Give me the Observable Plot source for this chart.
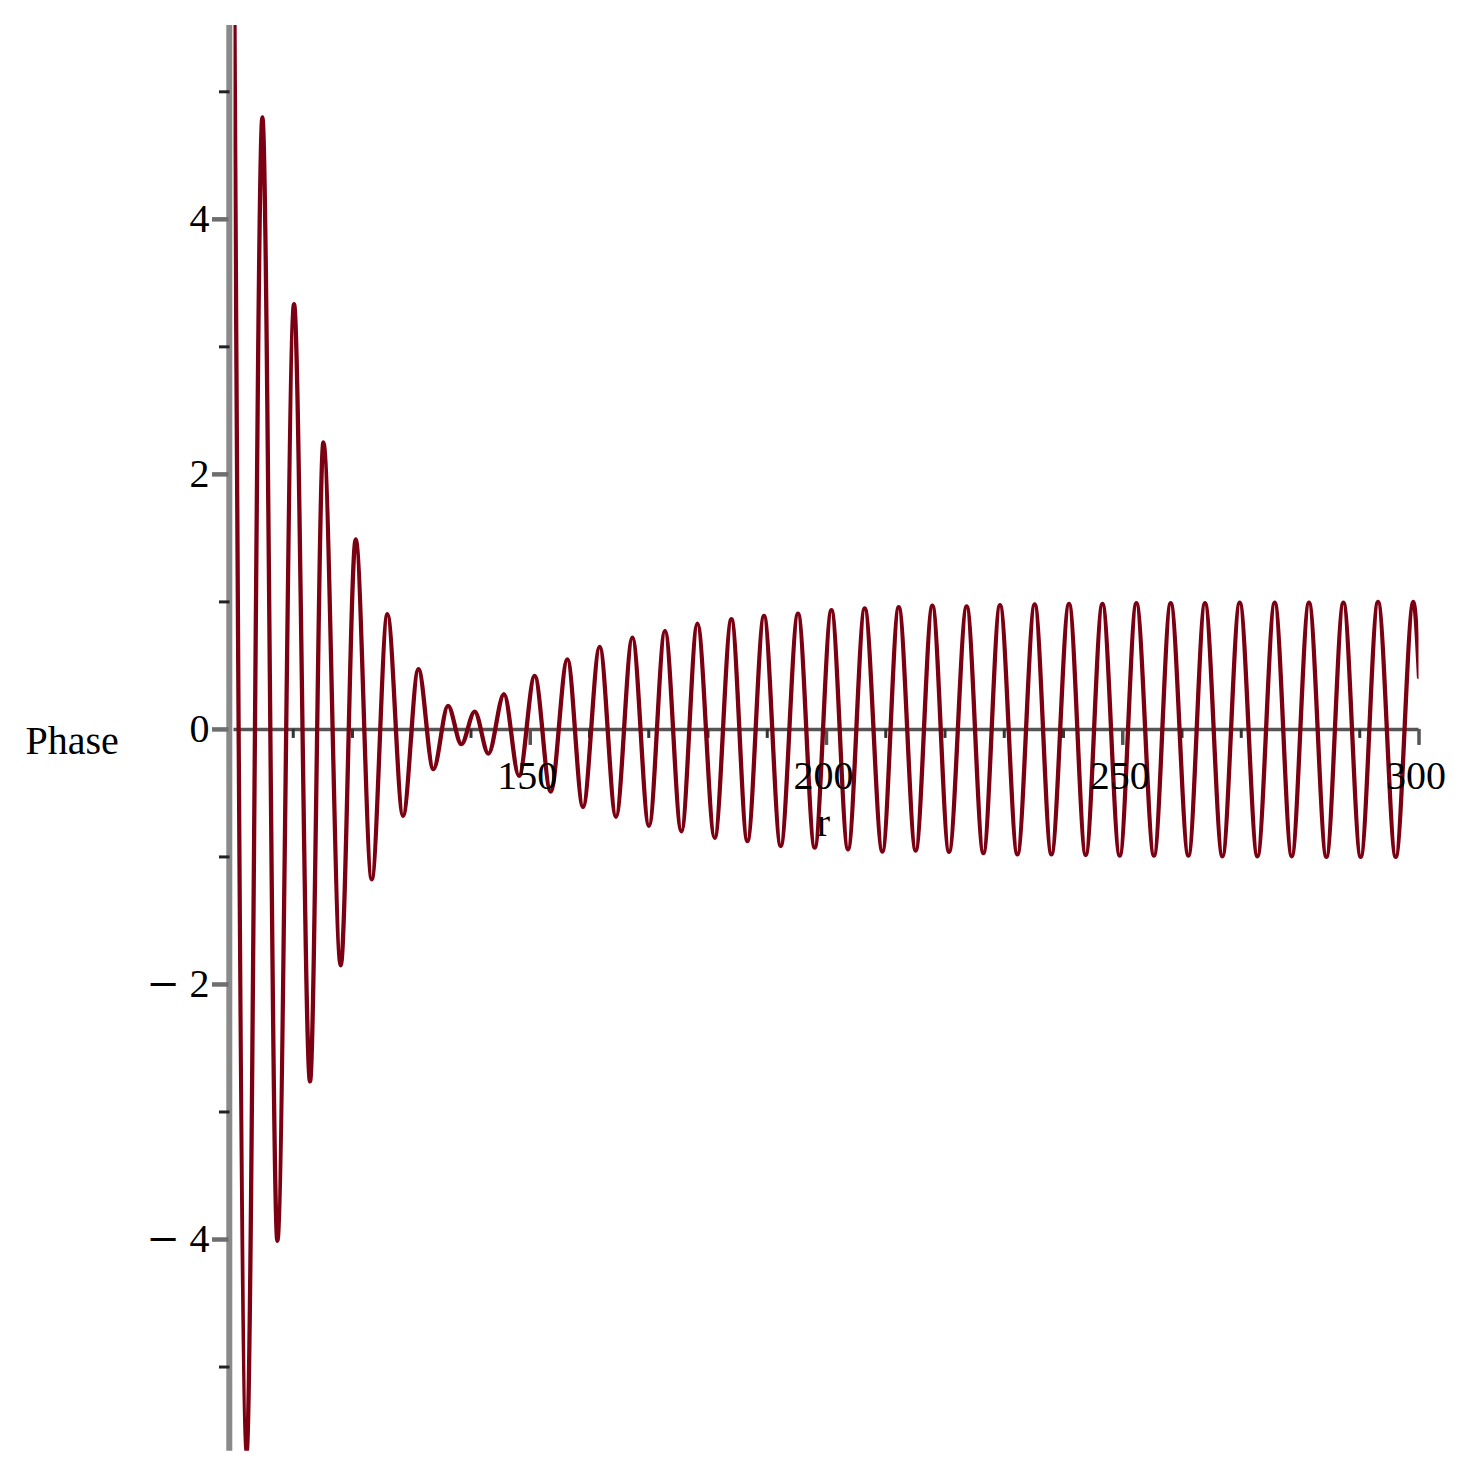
<!DOCTYPE html>
<html>
<head>
<meta charset="utf-8">
<script src="https://cdn.jsdelivr.net/npm/d3@7"></script>
<script src="https://cdn.jsdelivr.net/npm/@observablehq/plot@0.6"></script>
<style>
  html, body { margin: 0; padding: 0; background: #ffffff; }
  #chart svg { display: block; }
</style>
</head>
<body>
<div id="chart"></div>
<script>
// Extrema of the curve (r, Phase)
const r = [
  100, 102.14, 104.79, 107.32, 110.13, 112.83, 115.09, 118.01, 120.54, 123.24,
  125.89, 128.52, 131.12, 133.65, 136.12, 138.38, 140.62, 142.94, 145.57, 148.10,
  150.75, 153.45, 156.27, 158.90, 161.72, 164.47, 167.24, 170.04, 172.74, 175.51,
  178.21, 181.13, 183.95, 186.65, 189.45, 192.27, 195.19, 198.01, 200.83, 203.63,
  206.45, 209.43, 212.19, 215.05, 217.87, 220.68, 223.66, 226.48, 229.28, 232.22,
  235.14, 237.96, 240.93, 243.75, 246.57, 249.49, 252.30, 255.27, 258.09, 261.08,
  263.88, 266.82, 269.74, 272.73, 275.65, 278.52, 281.43, 284.37, 287.24, 290.16,
  293.08, 296.07, 299.05, 300
];
const phase = [
  6.2, -5.66, 4.80, -4.01, 3.335, -2.76, 2.25, -1.85, 1.49, -1.175,
  0.903, -0.678, 0.472, -0.312, 0.184, -0.116, 0.14, -0.19, 0.276, -0.365,
  0.42, -0.488, 0.55, -0.608, 0.647, -0.685, 0.72, -0.757, 0.773, -0.80,
  0.83, -0.85, 0.864, -0.875, 0.89, -0.914, 0.908, -0.927, 0.935, -0.94,
  0.95, -0.958, 0.958, -0.95, 0.97, -0.96, 0.965, -0.97, 0.975, -0.98,
  0.98, -0.98, 0.985, -0.985, 0.985, -0.99, 0.99, -0.99, 0.99, -0.99,
  0.99, -0.995, 0.995, -0.995, 0.995, -0.995, 0.995, -1.0, 0.995, -1.0,
  1.0, -1.0, 1.0, 0.41
];

const xDomain = [100, 300];
const yDomain = [-5.66, 5.52];
const xMajorTicks = [150, 200, 250, 300];
const xMinorTicks = [110, 120, 130, 140, 160, 170, 180, 190, 210, 220, 230, 240, 260, 270, 280, 290];
const yMajorTicks = [-4, -2, 0, 2, 4];
const yMinorTicks = [-5, -3, -1, 1, 3, 5];
const xLabel = "r";
const yLabel = "Phase";

const data = r.map((v, i) => ({r: v, phase: phase[i]}));
const serif = "'Liberation Serif', 'Times New Roman', 'DejaVu Serif', serif";

const chart = Plot.plot({
  width: 1470,
  height: 1473,
  marginLeft: 233.5,
  marginRight: 51.5,
  marginTop: 25,
  marginBottom: 22.3,
  style: {background: "#ffffff", fontFamily: serif, overflow: "visible", color: "#000"},
  x: {domain: xDomain, axis: null},
  y: {domain: yDomain, axis: null},
  marks: [
    // vertical axis line
    Plot.ruleX([xDomain[0]], {y1: yDomain[0], y2: yDomain[1], stroke: "#8a8a8a", strokeWidth: 6, dx: -4.7}),
    // y ticks
    Plot.ruleY(yMajorTicks, {y: d => d, x1: xDomain[0], x2: xDomain[0], insetLeft: -21.5, insetRight: 5, stroke: "#6e6e6e", strokeWidth: 4.5}),
    Plot.ruleY(yMinorTicks, {y: d => d, x1: xDomain[0], x2: xDomain[0], insetLeft: -14.5, insetRight: 4, stroke: "#222", strokeWidth: 3}),
    // horizontal axis line
    Plot.ruleY([0], {x1: xDomain[0], x2: xDomain[1], stroke: "#555", strokeWidth: 3.5}),
    // x ticks
    Plot.ruleX(xMinorTicks, {x: d => d, y1: 0, y2: 0, insetTop: 0, insetBottom: -9, stroke: "#333", strokeWidth: 3}),
    Plot.ruleX(xMajorTicks, {x: d => d, y1: 0, y2: 0, insetTop: 0, insetBottom: -16, stroke: "#555", strokeWidth: 3.5}),
    // curve
    Plot.line(data, {x: "r", y: "phase", curve: "monotone-x", stroke: "#7a0012", strokeWidth: 4.3, clip: true}),
    // y tick labels: digits, and a separate wide minus sign for negative values
    Plot.text(yMajorTicks, {x: xDomain[0], y: d => d, text: d => String(Math.abs(d)), textAnchor: "end", dx: -24.5, fontSize: 40, fontFamily: serif, fill: "#000"}),
    Plot.text(yMajorTicks.filter(d => d < 0), {x: xDomain[0], y: d => d, text: () => "\u2212", textAnchor: "end", dx: -54, fontSize: 40, fontFamily: "'DejaVu Serif', serif", fill: "#000"}),
    // x tick labels
    Plot.text(xMajorTicks, {x: d => d, y: 0, text: d => String(d), lineAnchor: "top", dy: 31, dx: -3, fontSize: 40, fontFamily: serif, fill: "#000"}),
    // axis labels
    Plot.text([xLabel], {x: (xDomain[0] + xDomain[1]) / 2, y: 0, dy: 94, dx: -3, fontSize: 40, fontFamily: serif, fill: "#000"}),
    Plot.text([yLabel], {frameAnchor: "left", y: 0, textAnchor: "start", dx: -208.5, dy: 12, fontSize: 40, fontFamily: serif, fill: "#000"})
  ]
});

document.getElementById("chart").appendChild(chart);
</script>
</body>
</html>
